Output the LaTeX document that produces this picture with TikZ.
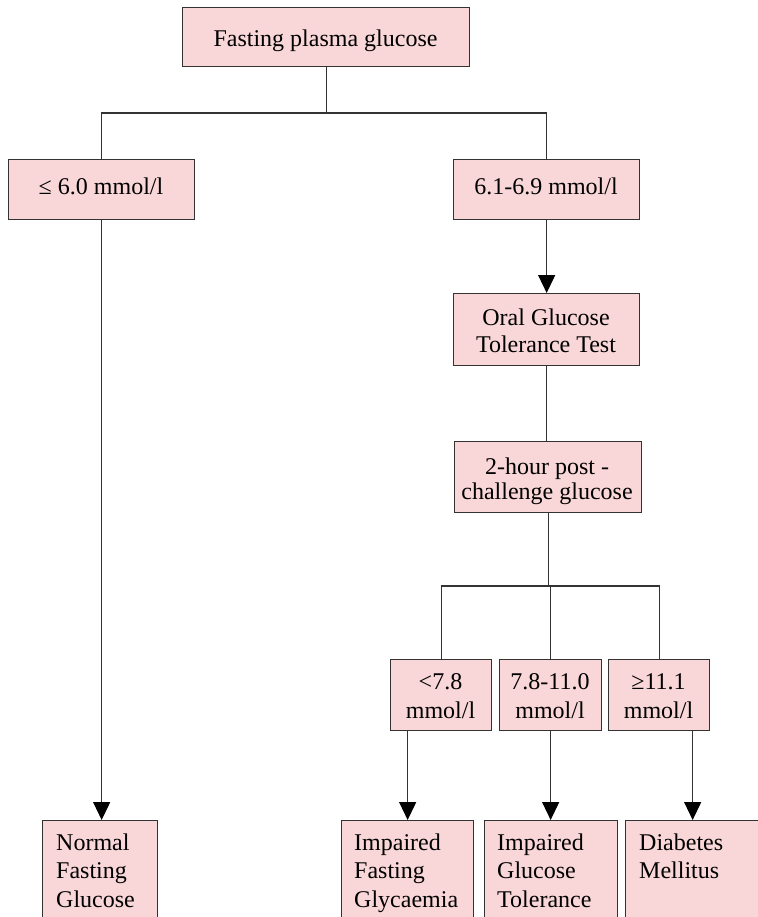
\documentclass[tikz,border=0pt]{standalone}
\usepackage{fontspec}
\setmainfont{Liberation Serif}
\usetikzlibrary{arrows.meta}
\definecolor{boxfill}{HTML}{F9D6D7}
\definecolor{linec}{HTML}{333333}
\begin{document}
\begin{tikzpicture}[x=1pt,y=-1pt,
  box/.style={draw=linec, fill=boxfill, line width=1.3pt, inner sep=0pt, anchor=north west},
  lbl/.style={inner sep=0pt, anchor=base, font=\fontsize{24}{28}\selectfont},
  lbll/.style={lbl, anchor=base west},
  conn/.style={draw=linec, line width=1.3pt},
  arr/.style={conn, -{Triangle[length=18pt,width=17pt,color=black]}}]
\useasboundingbox (0,0) rectangle (757,917);
% boxes
\node[box, minimum width=287pt, minimum height=59pt] (top) at (182,7) {};
\node[box, minimum width=186pt, minimum height=60pt] (le6) at (8,159) {};
\node[box, minimum width=186pt, minimum height=60pt] (r61) at (453,159) {};
\node[box, minimum width=186pt, minimum height=72pt] (ogtt) at (453,293) {};
\node[box, minimum width=187pt, minimum height=71pt] (two) at (454,441) {};
\node[box, minimum width=101pt, minimum height=71pt] (s1) at (390,659) {};
\node[box, minimum width=102pt, minimum height=71pt] (s2) at (499,659) {};
\node[box, minimum width=101pt, minimum height=71pt] (s3) at (608,659) {};
\node[box, minimum width=115pt, minimum height=120pt] (nfg) at (42,820) {};
\node[box, minimum width=132pt, minimum height=120pt] (ifg) at (341,820) {};
\node[box, minimum width=133pt, minimum height=120pt] (igt) at (484,820) {};
\node[box, minimum width=134pt, minimum height=120pt] (dm) at (625,820) {};
% junction levels
\coordinate (bar1) at (0,113);
\coordinate (bar2) at (0,586);
% connectors
\draw[conn] (top.south) -- (top.south |- bar1);
\draw[conn] (le6.north) -- (le6.north |- bar1) -- (r61.north |- bar1) -- (r61.north);
\draw[arr] (le6.south) -- (le6.south |- nfg.north);
\draw[arr] (r61.south) -- (ogtt.north);
\draw[conn] (ogtt.south) -- (ogtt.south |- two.north);
\draw[conn] (two.south) -- (two.south |- bar2);
\draw[conn] (s1.north) -- (s1.north |- bar2) -- (s3.north |- bar2) -- (s3.north);
\draw[conn] (s2.north) -- (s2.north |- bar2);
\draw[arr] (s1.south -| ifg.north) -- (ifg.north);
\draw[arr] (s2.south) -- (s2.south |- igt.north);
\draw[arr] (s3.south -| dm.north) -- (dm.north);
% labels
\node[lbl] (t0) at (325.5,47) {Fasting plasma glucose};
\node[lbl] (t1) at (101,195) {≤ 6.0 mmol/l};
\node[lbl] (t2) at (546,195) {6.1-6.9 mmol/l};
\node[lbl] (t3a) at (546,325) {Oral Glucose};
\node[lbl] (t3b) at (546,352) {Tolerance Test};
\node[lbl] (t4a) at (547,474) {2-hour post -};
\node[lbl] (t4b) at (547,499) {challenge glucose};
\node[lbl] (t5a) at (440.5,689) {<7.8};
\node[lbl] (t5b) at (440.5,718) {mmol/l};
\node[lbl] (t6a) at (550,689) {7.8-11.0};
\node[lbl] (t6b) at (550,718) {mmol/l};
\node[lbl] (t7a) at (658.5,689) {≥11.1};
\node[lbl] (t7b) at (658.5,718) {mmol/l};
\node[lbll] (t8a) at (56,850) {Normal};
\node[lbll] (t8b) at (56,878.5) {Fasting};
\node[lbll] (t8c) at (56,907) {Glucose};
\node[lbll] (t9a) at (354,850) {Impaired};
\node[lbll] (t9b) at (354,878.5) {Fasting};
\node[lbll] (t9c) at (354,907) {Glycaemia};
\node[lbll] (t10a) at (497,850) {Impaired};
\node[lbll] (t10b) at (497,878.5) {Glucose};
\node[lbll] (t10c) at (497,907) {Tolerance};
\node[lbll] (t11a) at (639,850) {Diabetes};
\node[lbll] (t11b) at (639,878.5) {Mellitus};
\end{tikzpicture}
\end{document}
